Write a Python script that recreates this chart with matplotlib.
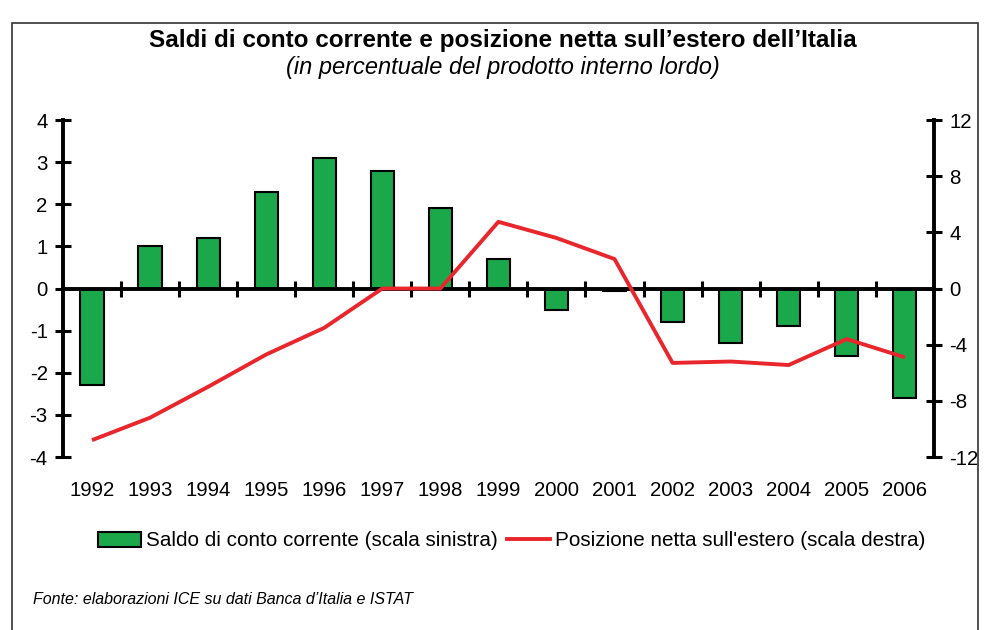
import matplotlib
matplotlib.use("Agg")
import matplotlib.pyplot as plt
from matplotlib.patches import Patch, Rectangle
from matplotlib.lines import Line2D

plt.rcParams['font.family'] = ['Liberation Sans', 'DejaVu Sans']
plt.rcParams['axes.unicode_minus'] = False

years = ['1992', '1993', '1994', '1995', '1996', '1997', '1998', '1999',
         '2000', '2001', '2002', '2003', '2004', '2005', '2006']
saldo = [-2.3, 1.0, 1.2, 2.3, 3.1, 2.8, 1.9, 0.7, -0.5, -0.05, -0.8, -1.3, -0.9, -1.6, -2.6]
posizione = [-10.8, -9.2, -7.0, -4.7, -2.8, 0.0, 0.0, 4.75, 3.6, 2.1, -5.3, -5.2, -5.45, -3.6, -4.9]

left_ticks = [-4, -3, -2, -1, 0, 1, 2, 3, 4]
right_ticks = [-12, -8, -4, 0, 4, 8, 12]

green = '#1ba84b'
red = '#e8262c'

fig = plt.figure(figsize=(9.84, 6.3), dpi=100)
ax = fig.add_axes([0.064, 0.2746, 0.885, 0.5349])
x = list(range(len(years)))

ax.bar(x, saldo, width=0.4, color=green, edgecolor='black', linewidth=1.5, zorder=1)
ax.set_xlim(-0.5, len(years) - 0.5)
ax.set_ylim(-4, 4)
ax.set_yticks(left_ticks)
ax.spines['top'].set_visible(False)
ax.spines['right'].set_visible(False)
ax.spines['left'].set_linewidth(2.8)
ax.spines['bottom'].set_linewidth(2.8)
ax.spines['bottom'].set_position(('data', 0))
ax.set_xticks([])
ax.set_xticks([i + 0.5 for i in x[:-1]], minor=True)
ax.tick_params(axis='x', which='minor', direction='inout', length=11, width=2.2)
ax.tick_params(axis='y', direction='inout', length=12, width=2.2, labelsize=14.7, pad=5)

# year labels under the plot area
sec = ax.secondary_xaxis(0)
sec.set_xticks(x, years)
sec.tick_params(length=0, labelsize=14.7, pad=17)
sec.spines['bottom'].set_visible(False)

ax2 = ax.twinx()
ax2.plot(x, posizione, color=red, linewidth=2.8, solid_capstyle='butt')
ax2.set_ylim(-12, 12)
ax2.set_yticks(right_ticks)
for s in ['top', 'left', 'bottom']:
    ax2.spines[s].set_visible(False)
ax2.spines['right'].set_linewidth(2.8)
ax2.tick_params(axis='y', direction='inout', length=12, width=2.2, labelsize=14.7, pad=5)

fig.text(0.511, 0.935, "Saldi di conto corrente e posizione netta sull\u2019estero dell\u2019Italia",
         ha='center', va='center', fontsize=17.5, fontweight='bold')
fig.text(0.511, 0.893, "(in percentuale del prodotto interno lordo)",
         ha='center', va='center', fontsize=17, style='italic')

handles = [Patch(facecolor=green, edgecolor='black', linewidth=1.5),
           Line2D([0], [0], color=red, linewidth=2.8)]
labels = ['Saldo di conto corrente (scala sinistra)',
          "Posizione netta sull'estero (scala destra)"]
fig.legend(handles, labels, loc='center', bbox_to_anchor=(0.52, 1 - 541 / 630), ncol=2,
           frameon=False, fontsize=14.9, handlelength=2.1, handleheight=0.7,
           handletextpad=0.25, columnspacing=0.4)

fig.text(33 / 984, 1 - 600 / 630, "Fonte: elaborazioni ICE su dati Banca d\u2019Italia e ISTAT",
         ha='left', va='center', fontsize=11.5, style='italic')

# outer frame
fig.patches.append(Rectangle((12 / 984, -0.05), 966 / 984, 1.05 - 23 / 630,
                             transform=fig.transFigure, fill=False,
                             edgecolor='#333333', linewidth=1.2))

fig.savefig('out.png', dpi=100)
